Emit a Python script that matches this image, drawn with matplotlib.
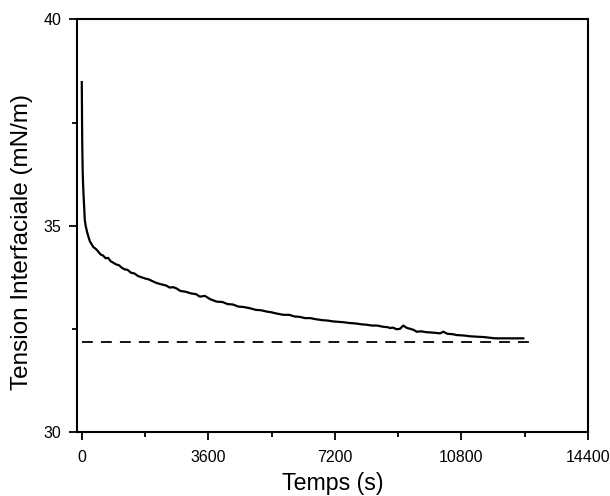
import matplotlib
matplotlib.use("Agg")
import matplotlib.pyplot as plt
from matplotlib.ticker import MultipleLocator
import numpy as np

plt.rcParams['font.family'] = ['Liberation Sans', 'DejaVu Sans']

# time (s) and interfacial tension (mN/m)
temps = [0, 4, 8, 12, 18, 25, 35, 50, 65, 85, 110, 150, 190, 230, 280, 330, 380,
         420, 480, 540, 600, 680, 750, 820, 900, 980, 1060, 1140, 1224, 1300,
         1400, 1500, 1600, 1698, 1800, 1900, 2000, 2100, 2172, 2300, 2400,
         2500, 2600, 2694, 2800, 2950, 3100, 3250, 3358, 3500, 3650, 3832,
         4000, 4150, 4300, 4450, 4600, 4781, 4950, 5100, 5250, 5400, 5550,
         5729, 5900, 6050, 6200, 6350, 6500, 6677, 6850, 7000, 7150, 7300,
         7450, 7627, 7800, 7950, 8100, 8250, 8400, 8575, 8700, 8765, 8850,
         8955, 9050, 9144, 9250, 9350, 9450, 9524, 9650, 9800, 9950, 10100,
         10188, 10283, 10400, 10550, 10663, 10850, 11050, 11232, 11450,
         11753, 12000, 12300, 12559]
tension = [38.48, 38.0, 37.5, 37.1, 36.7, 36.35, 36.05, 35.75, 35.5, 35.14,
           35.0, 34.85, 34.73, 34.62, 34.55, 34.48, 34.45, 34.42, 34.36,
           34.30, 34.28, 34.21, 34.22, 34.14, 34.10, 34.06, 34.04, 33.98,
           33.94, 33.93, 33.86, 33.84, 33.78, 33.75, 33.72, 33.70, 33.66,
           33.62, 33.60, 33.57, 33.55, 33.50, 33.51, 33.48, 33.42, 33.40,
           33.36, 33.34, 33.28, 33.30, 33.22, 33.16, 33.15, 33.10, 33.09,
           33.04, 33.03, 33.00, 32.96, 32.95, 32.92, 32.90, 32.87, 32.84,
           32.84, 32.80, 32.79, 32.76, 32.76, 32.73, 32.71, 32.70, 32.68,
           32.67, 32.66, 32.64, 32.63, 32.61, 32.60, 32.58, 32.58, 32.55,
           32.54, 32.52, 32.53, 32.49, 32.50, 32.58, 32.52, 32.50, 32.47,
           32.43, 32.44, 32.42, 32.41, 32.40, 32.39, 32.43, 32.38, 32.37,
           32.35, 32.34, 32.32, 32.31, 32.30, 32.27, 32.27, 32.27, 32.27]

# equilibrium value (dashed line)
equil_t = [0, 12900]
equil_val = [32.19, 32.19]

fig = plt.figure(figsize=(6.1, 4.96), dpi=100)
ax = fig.add_axes([0.126, 0.129, 0.838, 0.832])

ax.plot(temps, tension, color='k', lw=1.6)
ax.plot(equil_t, equil_val, color='k', lw=1.3, linestyle=(0, (6, 4.5)))

ax.set_xlim(-140, 14400)
ax.set_ylim(30, 40)
ax.xaxis.set_major_locator(MultipleLocator(3600))
ax.xaxis.set_minor_locator(MultipleLocator(1800))
ax.yaxis.set_major_locator(MultipleLocator(5))
ax.yaxis.set_minor_locator(MultipleLocator(2.5))

for sp in ax.spines.values():
    sp.set_linewidth(1.5)

ax.tick_params(which='major', direction='out', length=6, width=1.3, labelsize=11.5)
ax.tick_params(which='minor', direction='out', length=3.5, width=1.3)
ax.tick_params(axis='x', which='major', pad=7)
ax.tick_params(axis='y', which='major', pad=5)
ax.tick_params(top=False, right=False, which='both')

ax.set_xlabel("Temps (s)", fontsize=16.7, labelpad=5)
ax.set_ylabel("Tension Interfaciale (mN/m)", fontsize=17.5)
ax.yaxis.set_label_coords(-0.086, 0.46)

fig.savefig("out.png", dpi=100)
